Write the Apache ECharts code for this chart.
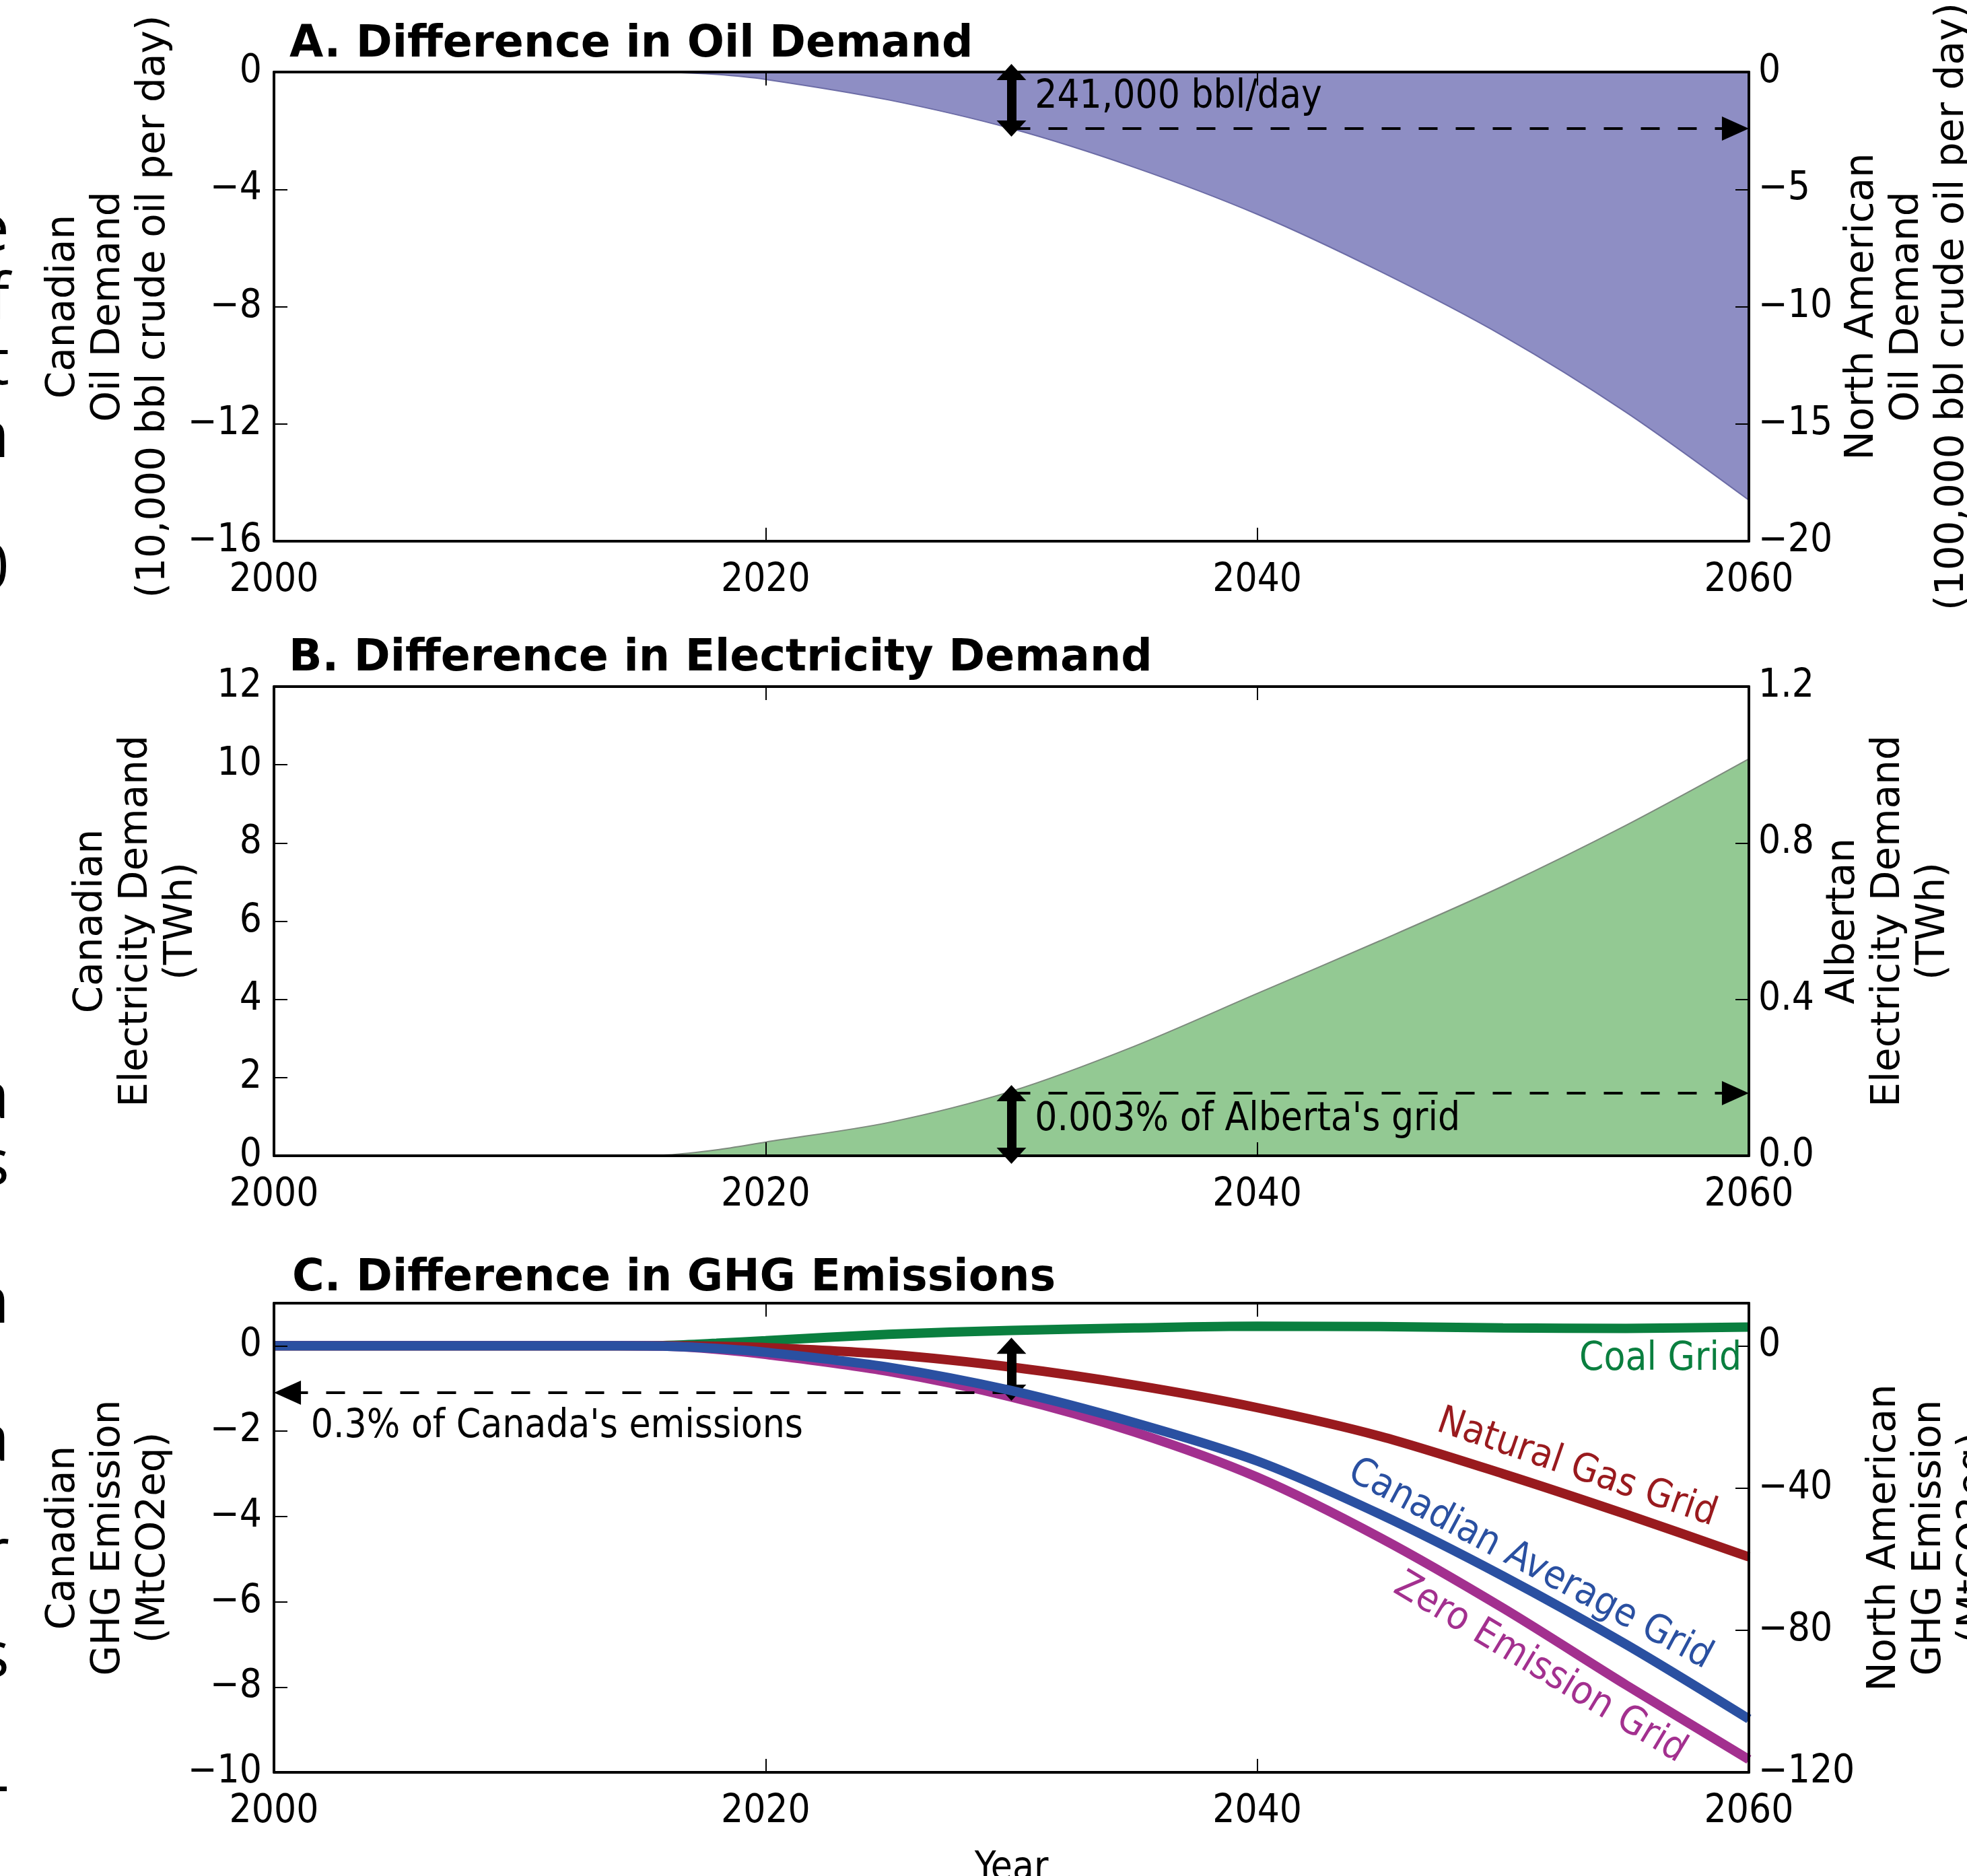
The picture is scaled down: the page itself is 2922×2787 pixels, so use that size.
<!DOCTYPE html>
<html><head><meta charset="utf-8">
<script src="https://cdn.jsdelivr.net/npm/echarts@6/dist/echarts.min.js"></script>
<style>html,body{margin:0;padding:0;background:#fff;}#c{width:2922px;height:2787px;}</style>
</head><body><div id="c"></div>
<script>
// ---------- data ----------
const years = [2000, 2005, 2010, 2014, 2016, 2018, 2020, 2025, 2030, 2035, 2040, 2045, 2050, 2055, 2060];
const oilDemand = [0, 0, 0, 0, -0.01, -0.08, -0.25, -0.95, -1.93, -3.25, -4.85, -6.8, -9.0, -11.6, -14.6];
const electricityDemand = [0, 0, 0, 0, 0.02, 0.15, 0.35, 0.85, 1.65, 2.8, 4.15, 5.5, 6.9, 8.45, 10.15];
const coalGrid = [0, 0, 0, 0, 0.01, 0.06, 0.12, 0.27, 0.36, 0.42, 0.46, 0.45, 0.42, 0.41, 0.44];
const naturalGasGrid = [0, 0, 0, 0, 0, -0.01, -0.04, -0.2, -0.5, -0.92, -1.45, -2.12, -3.0, -3.95, -4.95];
const canadianAverageGrid = [0, 0, 0, 0, -0.01, -0.06, -0.15, -0.5, -1.05, -1.8, -2.7, -3.95, -5.4, -7.0, -8.75];
const zeroEmissionGrid = [0, 0, 0, 0, -0.01, -0.08, -0.2, -0.6, -1.2, -2.02, -3.08, -4.5, -6.15, -7.95, -9.7];

const xTicks = [2000, 2020, 2040, 2060];
const oilLeftTicks = [-16, -12, -8, -4, 0];
const oilRightTicks = [-20, -15, -10, -5, 0];
const elecLeftTicks = [0, 2, 4, 6, 8, 10, 12];
const elecRightTicks = [0.0, 0.4, 0.8, 1.2];
const ghgLeftTicks = [-10, -8, -6, -4, -2, 0];
const ghgRightTicks = [-120, -80, -40, 0];
const ghgLeftMax = 1, ghgRightMax = 12;

// annotation values
const annotationYear = 2030;
const oilGap = -1.93;        // 241,000 bbl/day
const elecGap = 1.6;         // 0.003% of Alberta's grid
const ghgGap = -1.1;         // 0.3% of Canada's emissions

// ---------- helpers ----------
const TICK_FONT = "'DejaVu Sans Condensed', 'DejaVu Sans', sans-serif";
const LABEL_FONT = "'DejaVu Sans', sans-serif";
const pairs = arr => years.map((y, i) => [y, arr[i]]);
function fmt(list, dec) {
  return v => {
    if (!list.some(t => Math.abs(t - v) < 1e-9)) return '';
    const s = dec ? Math.abs(v).toFixed(dec) : String(Math.abs(v));
    return (v < 0 ? '\u2212' : '') + s;
  };
}
const lineAx = {show: true, onZero: false, lineStyle: {color: '#000', width: 4}};
const tickAx = {show: true, inside: true, length: 20, lineStyle: {color: '#000', width: 2}};

function xAx(gi, pos, showLabel, name) {
  return {
    type: 'value', gridIndex: gi, position: pos, z: 10,
    min: xTicks[0], max: xTicks[xTicks.length - 1], interval: 20,
    axisLine: lineAx, axisTick: tickAx, splitLine: {show: false},
    axisLabel: {show: showLabel, margin: 30, color: '#000', fontSize: 58, fontFamily: TICK_FONT, formatter: fmt(xTicks)},
    name: name || '', nameLocation: 'middle', nameGap: 115,
    nameTextStyle: {fontSize: 58, fontFamily: TICK_FONT, color: '#000'}
  };
}
function yAx(gi, pos, ticks, max, dec, name, gap) {
  const mn = Math.min.apply(null, ticks);
  return {
    type: 'value', gridIndex: gi, position: pos, z: 10,
    min: mn, max: max, interval: ticks[1] - ticks[0],
    axisLine: lineAx, axisTick: tickAx, splitLine: {show: false},
    axisLabel: {margin: pos === 'left' ? 18 : 14, color: '#000', fontSize: 58, fontFamily: TICK_FONT, formatter: fmt(ticks, dec)},
    name: name, nameLocation: 'middle', nameRotate: 90, nameGap: gap,
    nameTextStyle: {fontSize: 58, lineHeight: 67, fontFamily: LABEL_FONT, color: '#000', align: 'center'}
  };
}
function ghgLine(arr, color, z) {
  return {type: 'line', xAxisIndex: 4, yAxisIndex: 4, data: pairs(arr), smooth: 0.3, showSymbol: false, z: z,
    lineStyle: {color: color, width: 14}};
}
const dArrow = (x, y0, y1, w) => [
  {coord: [x, y0], symbol: 'triangle', symbolSize: [44, 24], lineStyle: {type: 'solid', width: w, color: '#000'}},
  {coord: [x, y1], symbol: 'triangle', symbolSize: [44, 24]}
];
const dashArrow = (x0, x1, y) => [
  {coord: [x0, y], symbol: 'none', lineStyle: {type: [28, 27], width: 4, color: '#000'}},
  {coord: [x1, y], symbol: 'triangle', symbolSize: [36, 40]}
];
function markerSeries(xi, yi, data) {
  return {type: 'line', xAxisIndex: xi, yAxisIndex: yi, data: [], z: 8, silent: true,
    markLine: {silent: true, animation: false, label: {show: false}, symbol: 'none', data: data}};
}

const chart = echarts.init(document.getElementById('c'), null, {renderer: 'canvas', width: 2922, height: 2787});
const titleStyle = {fontSize: 65, fontWeight: 'bold', fontFamily: LABEL_FONT, color: '#000'};
const gridBase = {containLabel: false, outerBoundsMode: 'none', left: 407, width: 2191, height: 697};

chart.setOption({
  animation: false,
  backgroundColor: '#fff',
  title: [
    {text: 'A. Difference in Oil Demand', left: 430, top: 35, padding: 0, textStyle: titleStyle},
    {text: 'B. Difference in Electricity Demand', left: 429, top: 947, padding: 0, textStyle: titleStyle},
    {text: 'C. Difference in GHG Emissions', left: 434, top: 1868, padding: 0, textStyle: titleStyle}
  ],
  grid: [
    Object.assign({top: 107}, gridBase),
    Object.assign({top: 1020}, gridBase),
    Object.assign({top: 1936}, gridBase)
  ],
  xAxis: [
    xAx(0, 'bottom', true), xAx(0, 'top', false),
    xAx(1, 'bottom', true), xAx(1, 'top', false),
    xAx(2, 'bottom', true, 'Year'), xAx(2, 'top', false)
  ],
  yAxis: [
    yAx(0, 'left', oilLeftTicks, 0, 0, 'Canadian\nOil Demand\n(10,000 bbl crude oil per day)', 145),
    yAx(0, 'right', oilRightTicks, 0, 0, 'North American\nOil Demand\n(100,000 bbl crude oil per day)', 128),
    yAx(1, 'left', elecLeftTicks, 12, 0, 'Canadian\nElectricity Demand\n(TWh)', 104),
    yAx(1, 'right', elecRightTicks, 1.2, 1, 'Albertan\nElectricity Demand\n(TWh)', 100),
    yAx(2, 'left', ghgLeftTicks, ghgLeftMax, 0, 'Canadian\nGHG Emission\n(MtCO2eq)', 145),
    yAx(2, 'right', ghgRightTicks, ghgRightMax, 0, 'North American\nGHG Emission\n(MtCO2eq)', 168)
  ],
  series: [
    {type: 'line', xAxisIndex: 0, yAxisIndex: 0, data: pairs(oilDemand), smooth: 0.3, showSymbol: false, z: 2,
      lineStyle: {color: '#6c6ca6', width: 2}, areaStyle: {color: '#8e8ec4', opacity: 1}},
    {type: 'line', xAxisIndex: 2, yAxisIndex: 2, data: pairs(electricityDemand), smooth: 0.3, showSymbol: false, z: 2,
      lineStyle: {color: '#7d8a7d', width: 2}, areaStyle: {color: '#93c993', opacity: 1}},
    ghgLine(coalGrid, '#0a7f3f', 2),
    ghgLine(naturalGasGrid, '#991a1e', 3),
    ghgLine(zeroEmissionGrid, '#a3308f', 4),
    ghgLine(canadianAverageGrid, '#2a50a1', 5),
    markerSeries(0, 0, [dArrow(annotationYear, 0, oilGap, 14), dashArrow(annotationYear, 2059.45, oilGap)]),
    markerSeries(2, 2, [dArrow(annotationYear, 0, elecGap, 14), dashArrow(annotationYear, 2059.45, elecGap)]),
    markerSeries(4, 4, [dArrow(annotationYear, 0, ghgGap, 14), dashArrow(annotationYear, 2000.55, ghgGap)])
  ]
});

// ---------- text annotations placed through the axes ----------
const px = (xi, yi, pt) => chart.convertToPixel({xAxisIndex: xi, yAxisIndex: yi}, pt);
const annFont = {fontSize: 58, fontFamily: TICK_FONT};
function txt(xi, yi, pt, text, color, align, rotDeg) {
  const p = px(xi, yi, pt);
  return {type: 'text', x: p[0], y: p[1], rotation: (rotDeg || 0) * Math.PI / 180, z: 20, silent: true,
    style: Object.assign({text: text, fill: color, align: align, verticalAlign: 'middle'}, annFont)};
}
const edgeLetters = [['e', 345], ['f', 447], ['t', 544], ['n', 652], ['0', 848], ['a', 1634], ['s', 1733],
  ['n', 1938], ['a', 2143], ['r', 2311], ['s', 2464], ['-', 2656]];
const graphics = [
  txt(0, 0, [2030.95, -0.87], '241,000 bbl/day', '#000', 'left'),
  txt(2, 2, [2030.95, 0.91], "0.003% of Alberta's grid", '#000', 'left'),
  txt(4, 4, [2001.5, -1.91], "0.3% of Canada's emissions", '#000', 'left'),
  txt(4, 4, [2059.7, -0.32], 'Coal Grid', '#0a7f3f', 'right'),
  txt(4, 4, [2053.0, -2.87], 'Natural Gas Grid', '#991a1e', 'center', -19),
  txt(4, 4, [2051.1, -5.13], 'Canadian Average Grid', '#2a50a1', 'center', -28),
  txt(4, 4, [2051.5, -7.56], 'Zero Emission Grid', '#a3308f', 'center', -31)
];
edgeLetters.forEach(([t, y]) => graphics.push({type: 'text', x: 14, y: y, z: 20, silent: true,
  style: {text: t, fill: '#000', align: 'right', verticalAlign: 'middle', fontSize: 96, fontFamily: "'Open Sans', sans-serif"}}));
chart.setOption({graphic: graphics});
</script></body></html>
